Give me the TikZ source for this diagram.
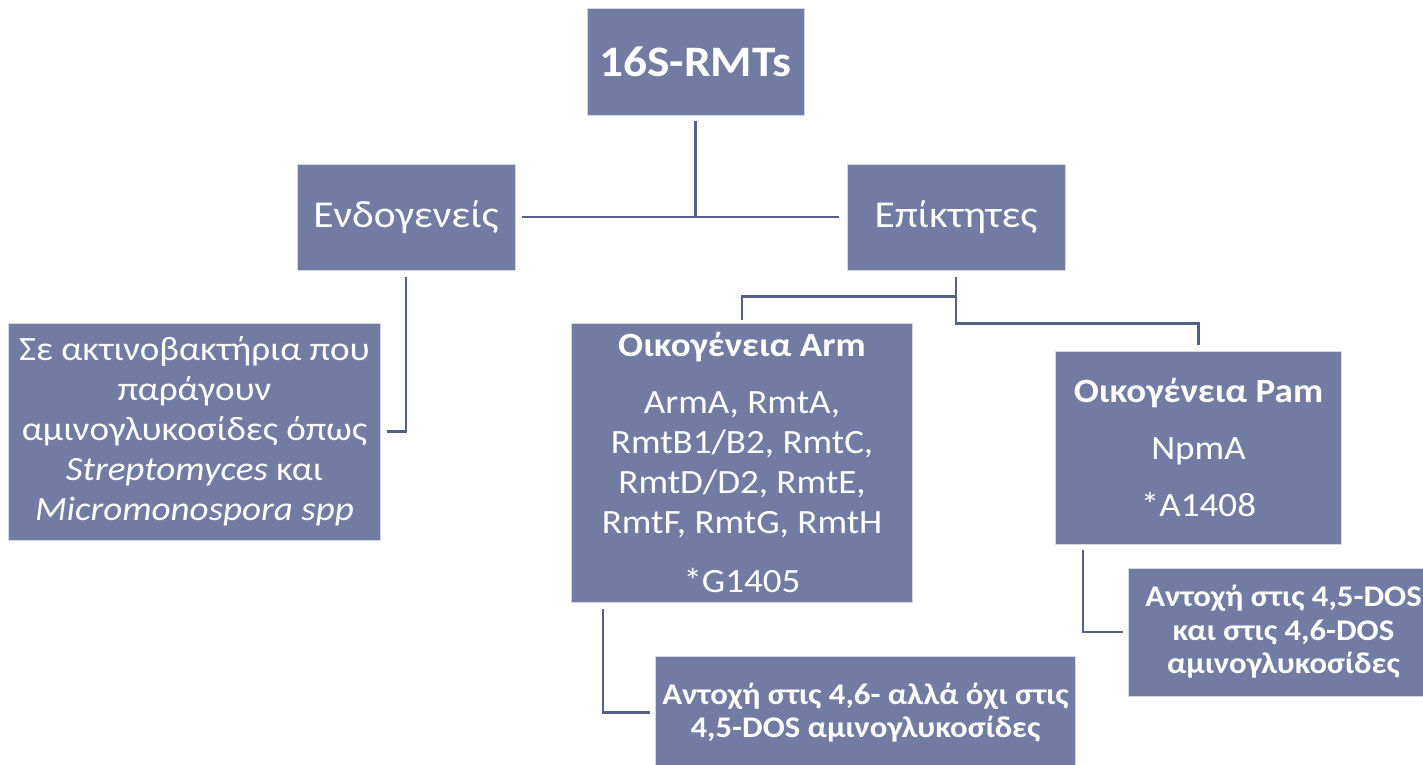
\documentclass[tikz,border=0pt]{standalone}
\usepackage{fontspec}
\setmainfont{Carlito}[FakeStretch=1.09]
\usepackage{xcolor}
\usetikzlibrary{positioning}

\definecolor{boxblue}{RGB}{114,124,163}
\definecolor{linkblue}{RGB}{86,96,133}

\begin{document}
\begin{tikzpicture}[
    box/.style={rectangle, draw=white!70!boxblue, line width=1pt, fill=boxblue, text=white, inner sep=0pt, align=center, minimum width=#1},
    link/.style={draw=linkblue, line width=2.5pt},
    big/.style={font=\fontsize{34}{40}\selectfont},
    small/.style={font=\fontsize{30}{33.5}\selectfont\bfseries}
]
    \path[use as bounding box] (0,0) rectangle (1423pt,-764pt);

    % Top
    \node[box=217pt, minimum height=107pt, font=\fontsize{43.5}{48}\selectfont\bfseries] (root) at (695.5pt,-61.5pt) {16S-RMTs};
    \node[box=218pt, minimum height=106pt, font=\fontsize{38}{42}\selectfont, below left=48pt and 71pt of root] (endo) {Ενδογενείς};
    \node[box=218pt, minimum height=106pt, font=\fontsize{38}{42}\selectfont, below right=48pt and 42pt of root] (epi) {Επίκτητες};

    % Endogenous
    \node[box=372pt, minimum height=217pt, big, below left=52pt and 25pt of endo.south] (actino) {Σε ακτινοβακτήρια που\\παράγουν\\αμινογλυκοσίδες όπως\\\textit{Streptomyces} και\\\textit{Micromonospora spp}};

    % Acquired
    \node[box=341pt, minimum height=279pt, big, below left=52pt and 43pt of epi.south] (arm) {\textbf{Οικογένεια Arm}\\[17pt]ArmA, RmtA,\\RmtB1/B2, RmtC,\\RmtD/D2, RmtE,\\RmtF, RmtG, RmtH\\[19pt]*G1405};
    \node[box=286pt, minimum height=193pt, big, below right=80pt and 99pt of epi.south] (pam) {\textbf{Οικογένεια Pam}\\[17pt]NpmA\\[17pt]*A1408};

    % Resistance
    \node[box=420pt, minimum height=113pt, small, below right=53pt and 84pt of arm.south west] (armres) {Αντοχή στις 4,6- αλλά όχι στις\\4,5-DOS αμινογλυκοσίδες};
    \node[box=310pt, minimum height=128pt, small, below right=23pt and 73pt of pam.south west] (pamres) {Αντοχή στις 4,5-DOS\\και στις 4,6-DOS\\αμινογλυκοσίδες};

    \coordinate (armbar) at ([yshift=-26pt]epi.south);
    \coordinate (split) at ([yshift=-53pt]epi.south);

    % Links
    \draw[link] ([yshift=-5pt]root.south) -- (root.south |- endo.east);
    \draw[link] ([xshift=6pt]endo.east) -- ([xshift=-8pt]epi.west);
    \draw[link] ([yshift=-6pt]endo.south) |- ([xshift=6pt]actino.east);
    \draw[link] ([yshift=-6pt]epi.south) -- (split) -| ([yshift=6pt]pam.north);
    \draw[link] (armbar) -| ([yshift=3pt]arm.north);
    \draw[link] ([xshift=32pt,yshift=-6pt]arm.south west) |- ([xshift=-5pt]armres.west);
    \draw[link] ([xshift=28pt,yshift=-5pt]pam.south west) |- ([xshift=-5pt]pamres.west);
\end{tikzpicture}
\end{document}
